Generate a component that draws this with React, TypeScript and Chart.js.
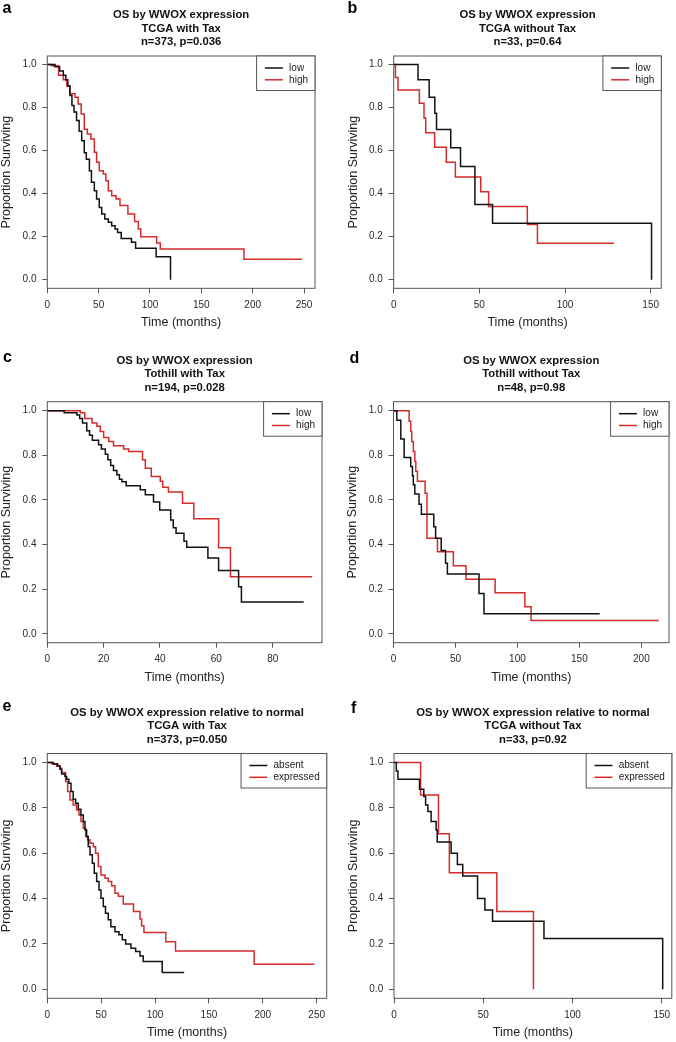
import React, { useEffect, useRef } from "react";
import { Chart, registerables } from "chart.js";

Chart.register(...registerables);

const FONT = '"Liberation Sans", Arial, Helvetica, sans-serif';
const FRAME = "#555555";
const BLACK = "#111111";
const RED = "#d42a2a";

// ---------- tick labels ----------
const yTicks = [0, 0.2, 0.4, 0.6, 0.8, 1.0];
const xTicksA = [0, 50, 100, 150, 200, 250];
const xTicksB = [0, 50, 100, 150];
const xTicksC = [0, 20, 40, 60, 80];
const xTicksD = [0, 50, 100, 150, 200];
const xTicksE = [0, 50, 100, 150, 200, 250];
const xTicksF = [0, 50, 100, 150];

// ---------- legend labels ----------
const groupsLowHigh = ["low", "high"];
const groupsAbsExp = ["absent", "expressed"];

// ---------- titles ----------
const titleA = ["OS by WWOX expression", "TCGA with Tax", "n=373, p=0.036"];
const titleB = ["OS by WWOX expression", "TCGA without Tax", "n=33, p=0.64"];
const titleC = ["OS by WWOX expression", "Tothill with Tax", "n=194, p=0.028"];
const titleD = ["OS by WWOX expression", "Tothill without Tax", "n=48, p=0.98"];
const titleE = ["OS by WWOX expression relative to normal", "TCGA with Tax", "n=373, p=0.050"];
const titleF = ["OS by WWOX expression relative to normal", "TCGA without Tax", "n=33, p=0.92"];

// ---------- panel a: TCGA with Tax ----------
const aLowTime = [0, 7.5, 12, 15.6, 18, 20, 22, 24, 26, 28.5, 31, 33.5, 36, 38, 41, 43, 45.8, 48, 50.6, 53, 56, 59.4, 62.7, 66, 68.5, 72, 82, 86, 106, 120];
const aLowSurv = [1, 0.99, 0.97, 0.95, 0.93, 0.9, 0.856, 0.81, 0.78, 0.74, 0.69, 0.646, 0.59, 0.56, 0.507, 0.453, 0.414, 0.375, 0.336, 0.305, 0.282, 0.267, 0.251, 0.236, 0.22, 0.192, 0.174, 0.146, 0.107, 0];
const aHighTime = [0, 4, 11, 15.6, 19, 22, 27, 30, 33, 36, 39, 42.5, 45.8, 48, 50.6, 54.5, 57, 59.4, 62.7, 67, 70.8, 78.5, 85, 88.6, 91, 106.5, 110, 191.5, 248];
const aHighSurv = [1, 0.995, 0.95, 0.93, 0.9, 0.864, 0.848, 0.817, 0.77, 0.7, 0.677, 0.654, 0.592, 0.546, 0.507, 0.491, 0.46, 0.414, 0.39, 0.375, 0.345, 0.305, 0.27, 0.236, 0.2, 0.171, 0.143, 0.095, 0.095];

// ---------- panel b: TCGA without Tax ----------
const bLowTime = [0, 14.2, 20.7, 24, 25, 33.3, 39, 47.4, 57.7, 150.5];
const bLowSurv = [1, 0.93, 0.848, 0.774, 0.698, 0.613, 0.526, 0.35, 0.262, 0];
const bHighTime = [0, 1, 2.5, 15, 17.7, 18.7, 23.9, 30.7, 36, 50.8, 55.4, 78, 83.9, 128.6];
const bHighSurv = [1, 0.94, 0.882, 0.82, 0.752, 0.683, 0.616, 0.546, 0.477, 0.409, 0.34, 0.257, 0.17, 0.17];

// ---------- panel c: Tothill with Tax ----------
const cLowTime = [0, 6, 10.5, 11.5, 12.5, 14, 15, 16, 18.2, 19.2, 20.6, 21.5, 22.5, 23.5, 24.7, 25.6, 26.5, 28, 33, 34.8, 37.7, 39.9, 43.8, 44.7, 45.7, 48.5, 49.5, 57, 60.8, 67.9, 68.9, 91];
const cLowSurv = [1, 0.99, 0.98, 0.965, 0.945, 0.91, 0.89, 0.867, 0.847, 0.828, 0.805, 0.78, 0.754, 0.732, 0.713, 0.693, 0.681, 0.663, 0.645, 0.623, 0.59, 0.555, 0.51, 0.475, 0.45, 0.415, 0.388, 0.34, 0.283, 0.211, 0.142, 0.142];
const cHighTime = [0, 11.7, 13.3, 15.9, 17.6, 18.8, 20, 21.8, 23.5, 27.1, 28.9, 33.8, 34.8, 36.9, 40.1, 41, 43, 48, 52, 60.8, 65, 94];
const cHighSurv = [1, 0.99, 0.965, 0.945, 0.93, 0.907, 0.88, 0.862, 0.843, 0.828, 0.817, 0.78, 0.742, 0.705, 0.683, 0.657, 0.635, 0.585, 0.515, 0.386, 0.256, 0.256];

// ---------- panel d: Tothill without Tax ----------
const dLowTime = [0, 2.7, 5.9, 8.6, 13.9, 15.3, 16, 17.2, 20.6, 22.5, 32.5, 34, 38.5, 42, 43.5, 69, 73, 166.4];
const dLowSurv = [1, 0.957, 0.873, 0.79, 0.75, 0.708, 0.668, 0.626, 0.58, 0.536, 0.48, 0.428, 0.373, 0.316, 0.268, 0.18, 0.09, 0.09];
const dHighTime = [0, 12.6, 13.9, 14.7, 16, 17.2, 18, 19.3, 25.5, 27, 35.5, 48.3, 58.5, 82, 106, 111, 214];
const dHighSurv = [1, 0.952, 0.907, 0.862, 0.817, 0.772, 0.728, 0.683, 0.63, 0.428, 0.368, 0.305, 0.244, 0.184, 0.121, 0.06, 0.06];

// ---------- panel e: relative to normal, TCGA with Tax ----------
const eAbsentTime = [0, 5.6, 9.6, 11.8, 13.3, 16.4, 18, 20, 22, 24, 26.3, 28.8, 31.2, 33.4, 35, 36.5, 38, 39.6, 41.8, 43.6, 45.8, 48, 49.8, 52, 54, 56.6, 59, 62.8, 66.5, 69.6, 72.7, 77.6, 82, 86, 89, 106.7, 127];
const eAbsentSurv = [1, 0.994, 0.985, 0.97, 0.95, 0.938, 0.926, 0.909, 0.872, 0.838, 0.82, 0.794, 0.769, 0.74, 0.703, 0.674, 0.63, 0.593, 0.556, 0.512, 0.475, 0.438, 0.401, 0.365, 0.335, 0.306, 0.276, 0.254, 0.24, 0.218, 0.2, 0.181, 0.166, 0.147, 0.122, 0.074, 0.074];
const eExprTime = [0, 4, 8.7, 11.8, 13.3, 17, 18.9, 21, 24, 27.2, 29.4, 31.2, 33.4, 35.6, 37.4, 39.6, 42.7, 44.8, 47.3, 49.8, 53.5, 56.6, 59.7, 62.8, 66, 70.5, 80, 86, 87.5, 89.7, 110, 119, 192, 248];
const eExprSurv = [1, 0.995, 0.985, 0.975, 0.956, 0.916, 0.872, 0.835, 0.813, 0.791, 0.769, 0.74, 0.71, 0.674, 0.659, 0.644, 0.629, 0.6, 0.541, 0.504, 0.49, 0.475, 0.456, 0.424, 0.41, 0.376, 0.343, 0.31, 0.28, 0.25, 0.21, 0.169, 0.11, 0.11];

// ---------- panel f: relative to normal, TCGA without Tax ----------
const fAbsentTime = [0, 1.3, 2.2, 14.3, 16.7, 17.7, 19, 20.8, 23.6, 24.2, 32, 35.5, 38.5, 46.8, 50.9, 55.2, 84, 150.5];
const fAbsentSurv = [1, 0.963, 0.926, 0.882, 0.85, 0.813, 0.784, 0.74, 0.703, 0.65, 0.6, 0.55, 0.5, 0.4, 0.35, 0.3, 0.224, 0];
const fExprTime = [0, 14.9, 24.9, 31, 57.6, 78.1];
const fExprSurv = [1, 0.857, 0.686, 0.514, 0.343, 0];

type Series = { label: string; time: number[]; surv: number[]; color: string };
type Panel = {
  letter: string;
  letterPos: { left: number; top: number };
  title: string[];
  cell: { x: number; y: number; w: number; h: number };
  box: { l: number; t: number; r: number; b: number };
  xMax: number;
  xTicks: number[];
  series: Series[];
};

const panels: Panel[] = [
  {
    letter: "a", letterPos: { left: 2.5, top: 0 }, title: titleA,
    cell: { x: 0, y: 0, w: 338, h: 340 }, box: { l: 47.3, t: 56, r: 315, b: 288.3 },
    xMax: 260.7, xTicks: xTicksA,
    series: [
      { label: groupsLowHigh[0], time: aLowTime, surv: aLowSurv, color: BLACK },
      { label: groupsLowHigh[1], time: aHighTime, surv: aHighSurv, color: RED },
    ],
  },
  {
    letter: "b", letterPos: { left: 347.5, top: 0 }, title: titleB,
    cell: { x: 338, y: 0, w: 338, h: 340 }, box: { l: 393.7, t: 56, r: 661.3, b: 288.3 },
    xMax: 156.2, xTicks: xTicksB,
    series: [
      { label: groupsLowHigh[0], time: bLowTime, surv: bLowSurv, color: BLACK },
      { label: groupsLowHigh[1], time: bHighTime, surv: bHighSurv, color: RED },
    ],
  },
  {
    letter: "c", letterPos: { left: 3, top: 349.2 }, title: titleC,
    cell: { x: 0, y: 340, w: 338, h: 350 }, box: { l: 47.3, t: 401.7, r: 322, b: 642.7 },
    xMax: 97.5, xTicks: xTicksC,
    series: [
      { label: groupsLowHigh[0], time: cLowTime, surv: cLowSurv, color: BLACK },
      { label: groupsLowHigh[1], time: cHighTime, surv: cHighSurv, color: RED },
    ],
  },
  {
    letter: "d", letterPos: { left: 349.5, top: 350 }, title: titleD,
    cell: { x: 338, y: 340, w: 338, h: 350 }, box: { l: 393.5, t: 401.7, r: 669, b: 642.7 },
    xMax: 222.3, xTicks: xTicksD,
    series: [
      { label: groupsLowHigh[0], time: dLowTime, surv: dLowSurv, color: BLACK },
      { label: groupsLowHigh[1], time: dHighTime, surv: dHighSurv, color: RED },
    ],
  },
  {
    letter: "e", letterPos: { left: 2.5, top: 698.2 }, title: titleE,
    cell: { x: 0, y: 690, w: 338, h: 352 }, box: { l: 47.3, t: 753.5, r: 326.7, b: 998.3 },
    xMax: 259.3, xTicks: xTicksE,
    series: [
      { label: groupsAbsExp[0], time: eAbsentTime, surv: eAbsentSurv, color: BLACK },
      { label: groupsAbsExp[1], time: eExprTime, surv: eExprSurv, color: RED },
    ],
  },
  {
    letter: "f", letterPos: { left: 351, top: 700 }, title: titleF,
    cell: { x: 338, y: 690, w: 338, h: 352 }, box: { l: 394, t: 753.5, r: 673, b: 998.3 },
    xMax: 155.6, xTicks: xTicksF,
    series: [
      { label: groupsAbsExp[0], time: fAbsentTime, surv: fAbsentSurv, color: BLACK },
      { label: groupsAbsExp[1], time: fExprTime, surv: fExprSurv, color: RED },
    ],
  },
];

const Y_AXIS_W = 47;
const TITLE_SIZE = 11.3;
const TITLE_LH = 13.4;
const TITLE_PAD_BOTTOM = 7.3;
const AXIS_TITLE_SIZE = 12.5;
const TICK_SIZE = 10;
const LEGEND_SIZE = 10;
const LINE_W = 1.5;

const frameLegendPlugin = {
  id: "frameLegend",
  afterDatasetsDraw(chart: any) {
    const { ctx, chartArea } = chart;
    const { left, top, right, bottom } = chartArea;
    ctx.save();
    ctx.strokeStyle = FRAME;
    ctx.lineWidth = 1;
    ctx.strokeRect(left, top, right - left, bottom - top);

    const datasets = chart.data.datasets;
    ctx.font = `${LEGEND_SIZE}px ${FONT}`;
    let textW = 0;
    datasets.forEach((ds: any) => {
      textW = Math.max(textW, ctx.measureText(ds.label).width);
    });
    const w = 32.5 + textW + 7;
    const h = 34.5;
    const x0 = right - w;
    const y0 = top;
    ctx.fillStyle = "#ffffff";
    ctx.fillRect(x0, y0, w, h);
    ctx.strokeStyle = FRAME;
    ctx.lineWidth = 1;
    ctx.strokeRect(x0, y0, w, h);
    datasets.forEach((ds: any, i: number) => {
      const y = y0 + 12 + i * 11.8;
      ctx.strokeStyle = ds.borderColor;
      ctx.lineWidth = LINE_W;
      ctx.beginPath();
      ctx.moveTo(x0 + 8.3, y);
      ctx.lineTo(x0 + 26.3, y);
      ctx.stroke();
      ctx.fillStyle = "#222222";
      ctx.textAlign = "left";
      ctx.textBaseline = "middle";
      ctx.fillText(ds.label, x0 + 32.5, y);
    });
    ctx.restore();
  },
};

function KMPanel({ panel }: { panel: Panel }) {
  const ref = useRef<HTMLCanvasElement | null>(null);
  useEffect(() => {
    const canvas = ref.current;
    if (!canvas) return;
    const { cell, box } = panel;
    const titlePadTop = box.t - cell.y - 3 * TITLE_LH - TITLE_PAD_BOTTOM;
    const xAxisH = cell.y + cell.h - box.b;
    const xTitlePadBottom = xAxisH - 34.4 - AXIS_TITLE_SIZE / 2;
    const gridOpts = {
      display: true,
      drawOnChartArea: false,
      drawTicks: true,
      tickLength: 5,
      color: FRAME,
      lineWidth: 1,
    };
    const chart = new Chart(canvas, {
      type: "line",
      data: {
        datasets: panel.series.map((s) => ({
          label: s.label,
          data: s.time.map((t, i) => ({ x: t, y: s.surv[i] })),
          borderColor: s.color,
          backgroundColor: s.color,
          borderWidth: LINE_W,
          pointRadius: 0,
          pointHoverRadius: 0,
          stepped: "before" as const,
          fill: false,
          tension: 0,
        })),
      },
      options: {
        responsive: false,
        animation: false,
        events: [],
        layout: {
          padding: {
            left: box.l - cell.x - Y_AXIS_W,
            right: cell.x + cell.w - box.r,
            top: 0,
            bottom: 0,
          },
        },
        plugins: {
          legend: { display: false },
          tooltip: { enabled: false },
          title: {
            display: true,
            text: panel.title,
            fullSize: false,
            color: "#111111",
            font: { family: FONT, size: TITLE_SIZE, weight: "bold", lineHeight: TITLE_LH / TITLE_SIZE },
            padding: { top: titlePadTop, bottom: TITLE_PAD_BOTTOM },
          },
        },
        scales: {
          x: {
            type: "linear",
            min: 0,
            max: panel.xMax,
            afterBuildTicks: (scale: any) => {
              scale.ticks = panel.xTicks.map((v) => ({ value: v }));
            },
            afterFit: (scale: any) => {
              scale.height = xAxisH;
            },
            grid: gridOpts,
            border: { display: false },
            ticks: {
              font: { family: FONT, size: TICK_SIZE },
              color: "#2a2a2a",
              padding: 5.7,
              maxRotation: 0,
              autoSkip: false,
              callback: (v: any) => String(v),
            },
            title: {
              display: true,
              text: "Time (months)",
              color: "#222222",
              font: { family: FONT, size: AXIS_TITLE_SIZE, lineHeight: 1 },
              padding: { top: 0, bottom: xTitlePadBottom },
            },
          },
          y: {
            type: "linear",
            min: -0.04,
            max: 1.04,
            afterBuildTicks: (scale: any) => {
              scale.ticks = yTicks.map((v) => ({ value: v }));
            },
            afterFit: (scale: any) => {
              scale.width = Y_AXIS_W;
            },
            grid: gridOpts,
            border: { display: false },
            ticks: {
              font: { family: FONT, size: TICK_SIZE },
              color: "#2a2a2a",
              padding: 5.8,
              autoSkip: false,
              callback: (v: any) => Number(v).toFixed(1),
            },
            title: {
              display: true,
              text: "Proportion Surviving",
              color: "#222222",
              font: { family: FONT, size: AXIS_TITLE_SIZE, lineHeight: 1 },
              padding: { top: 0.25, bottom: 0 },
            },
          },
        },
      } as any,
      plugins: [frameLegendPlugin],
    });
    return () => chart.destroy();
  }, [panel]);

  return (
    <>
      <canvas
        ref={ref}
        width={panel.cell.w}
        height={panel.cell.h}
        style={{
          position: "absolute",
          left: panel.cell.x,
          top: panel.cell.y,
          width: panel.cell.w,
          height: panel.cell.h,
        }}
      />
      <div
        style={{
          position: "absolute",
          left: panel.letterPos.left,
          top: panel.letterPos.top,
          font: `bold 16px ${FONT}`,
          lineHeight: "16px",
          color: "#000",
        }}
      >
        {panel.letter}
      </div>
    </>
  );
}

export default function App() {
  return (
    <div
      style={{
        position: "absolute",
        left: 0,
        top: 0,
        width: 676,
        height: 1042,
        background: "#ffffff",
        overflow: "hidden",
      }}
    >
      {panels.map((p) => (
        <KMPanel key={p.letter} panel={p} />
      ))}
    </div>
  );
}
